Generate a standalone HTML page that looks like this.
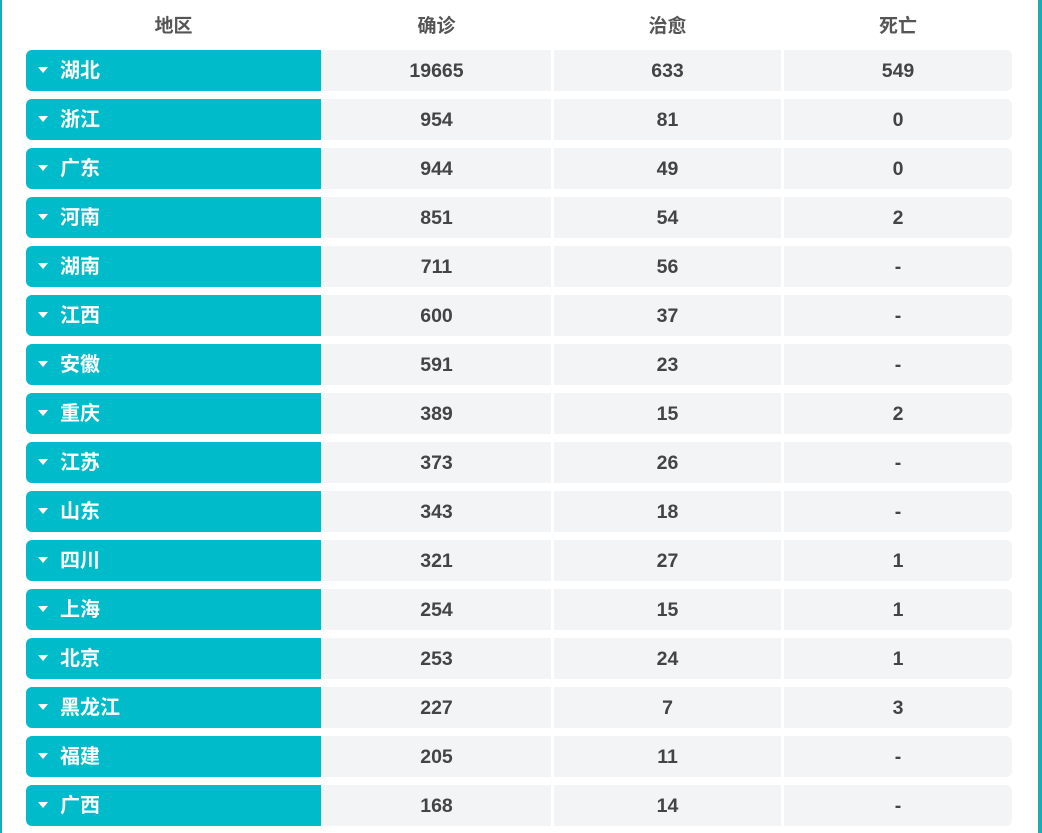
<!DOCTYPE html>
<html><head><meta charset="utf-8"><style>
html,body{margin:0;padding:0;}
body{width:1042px;height:833px;position:relative;overflow:hidden;background:#fff;font-family:"Liberation Sans","Noto Sans CJK SC",sans-serif;font-weight:bold;}
.lb{position:absolute;left:0;top:0;width:2px;height:833px;background:#13aeb6;}
.rb{position:absolute;right:0;top:0;width:4px;height:833px;background:#13aeb6;}
.h{position:absolute;top:13px;font-size:19px;color:#555;text-align:center;line-height:28px;}
.row{position:absolute;left:26px;height:41px;width:986px;}
.c{position:absolute;top:0;height:41px;line-height:43px;text-align:center;font-size:19.5px;color:#444;background:#f3f4f6;}
.r{left:0;width:295px;background:#00bcca;border-radius:6px 0 0 6px;color:#fff;text-align:left;font-size:20px;}
.r span{position:absolute;left:34px;}
.r i{position:absolute;left:12px;top:17px;width:0;height:0;border-left:5px solid transparent;border-right:5px solid transparent;border-top:6px solid #fff;}
.c1{left:296px;width:229px;}
.c2{left:528px;width:227px;}
.c3{left:758px;width:228px;border-radius:0 6px 6px 0;}
</style></head><body>
<div class="lb"></div><div class="rb"></div>
<div class="h" style="left:26px;width:295px">地区</div>
<div class="h" style="left:322px;width:229px">确诊</div>
<div class="h" style="left:554px;width:227px">治愈</div>
<div class="h" style="left:784px;width:228px">死亡</div>
<div id="t"></div>
<script>
var d=[["湖北",19665,633,549],["浙江",954,81,0],["广东",944,49,0],["河南",851,54,2],["湖南",711,56,"-"],["江西",600,37,"-"],["安徽",591,23,"-"],["重庆",389,15,2],["江苏",373,26,"-"],["山东",343,18,"-"],["四川",321,27,1],["上海",254,15,1],["北京",253,24,1],["黑龙江",227,7,3],["福建",205,11,"-"],["广西",168,14,"-"]];
var h="";
d.forEach(function(r,i){h+='<div class="row" style="top:'+(50+49*i)+'px"><div class="c r"><i></i><span>'+r[0]+'</span></div><div class="c c1">'+r[1]+'</div><div class="c c2">'+r[2]+'</div><div class="c c3">'+r[3]+'</div></div>';});
document.getElementById("t").innerHTML=h;
</script>
</body></html>
